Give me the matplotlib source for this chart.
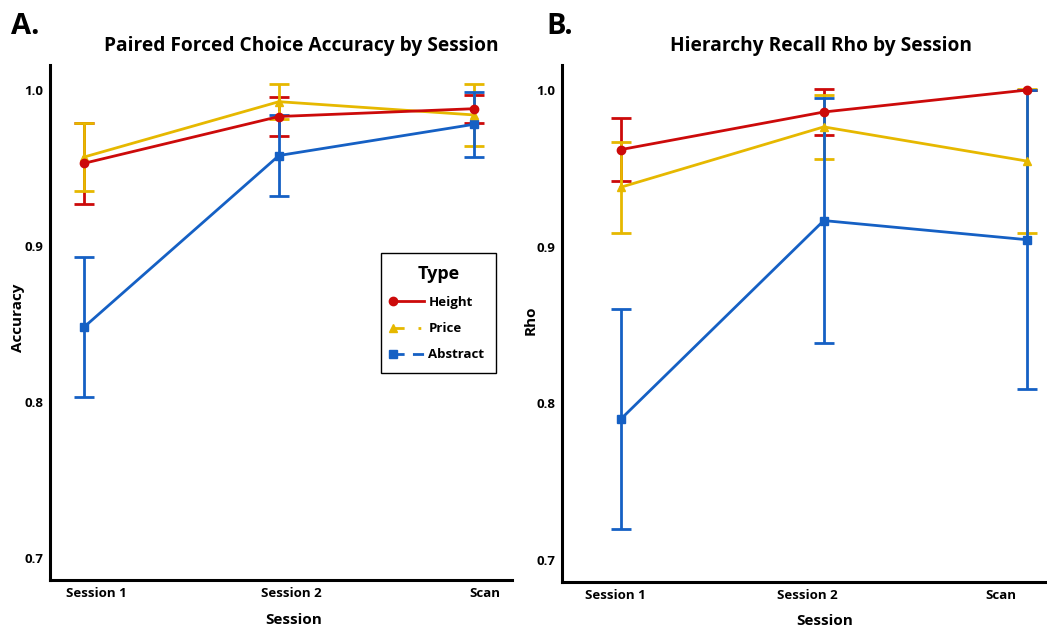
import numpy as np
import matplotlib
matplotlib.use("Agg")
import matplotlib.pyplot as plt
from matplotlib.lines import Line2D
from matplotlib.legend_handler import HandlerLine2D
from matplotlib.transforms import ScaledTranslation

plt.rcParams['font.family'] = ['Open Sans', 'DejaVu Sans']
plt.rcParams['font.weight'] = 'bold'

sessions = ['Session 1', 'Session 2', 'Scan']
types = ['Height', 'Price', 'Abstract']
colors = {'Height': '#CC0A0A', 'Price': '#E6B800', 'Abstract': '#1560C4'}
markers = {'Height': 'o', 'Price': '^', 'Abstract': 's'}
leg_styles = {'Height': '-', 'Price': (0, (4, 5, 1, 5)), 'Abstract': (0, (4, 3))}

# panel A: paired forced choice accuracy
acc_mean = {
    'Height': [0.953, 0.983, 0.988],
    'Price': [0.957, 0.9925, 0.984],
    'Abstract': [0.848, 0.958, 0.978],
}
acc_err = {
    'Height': [0.026, 0.0125, 0.009],
    'Price': [0.022, 0.0113, 0.020],
    'Abstract': [0.045, 0.026, 0.021],
}

# panel B: hierarchy recall rho
rho_mean = {
    'Height': [0.962, 0.986, 1.000],
    'Price': [0.938, 0.9765, 0.9547],
    'Abstract': [0.790, 0.9167, 0.9045],
}
rho_err = {
    'Height': [0.020, 0.0145, 0.000],
    'Price': [0.029, 0.0205, 0.0457],
    'Abstract': [0.070, 0.078, 0.0955],
}


class LeftMarker(HandlerLine2D):
    # legend marker at the left end of the handle line
    def create_artists(self, *args, **kwargs):
        arts = super().create_artists(*args, **kwargs)
        for a in arts:
            a.set_markevery([0])
        return arts


fig = plt.figure(figsize=(10.47, 6.27), dpi=100)
axA = fig.add_axes([50 / 1047, 1 - 580 / 627, 462 / 1047, 515 / 627])
axB = fig.add_axes([562 / 1047, 1 - 582 / 627, 485 / 1047, 517 / 627])


def draw(ax, means, errs, xlim, ylim, label_shift):
    x = np.arange(len(sessions))
    # error bars first (blue ends up on top), then lines + markers
    for t in ['Height', 'Price', 'Abstract']:
        ax.errorbar(x, means[t], yerr=errs[t], fmt='none', ecolor=colors[t],
                    elinewidth=2, capsize=7, capthick=2, zorder=2)
    for t in ['Abstract', 'Price', 'Height']:
        ax.plot(x, means[t], color=colors[t], marker=markers[t], markersize=6,
                linewidth=2, zorder=3)
    ax.set_xlim(*xlim)
    ax.set_ylim(*ylim)
    ax.set_xticks(x)
    ax.set_xticklabels(sessions, fontsize=9.5, fontweight='bold')
    ax.set_yticks([0.7, 0.8, 0.9, 1.0])
    ax.set_yticklabels(['0.7', '0.8', '0.9', '1.0'], fontsize=9.5, fontweight='bold')
    ax.tick_params(length=0, pad=5)
    for s in ['top', 'right']:
        ax.spines[s].set_visible(False)
    for s in ['left', 'bottom']:
        ax.spines[s].set_linewidth(2.2)
    for lab, dx in zip(ax.get_xticklabels(), label_shift):
        lab.set_transform(lab.get_transform() + ScaledTranslation(dx / 100, 0, fig.dpi_scale_trans))


draw(axA, acc_mean, acc_err, (-0.174, 2.195), (0.686, 1.016), [12, 12, 11])
draw(axB, rho_mean, rho_err, (-0.29, 2.1), (0.686, 1.016), [-5, -16, -26])

handles = [Line2D([], [], color=colors[t], marker=markers[t], markersize=6,
                  linewidth=2, linestyle=leg_styles[t]) for t in types]
leg = axA.legend(handles, types, title='Type', loc='upper left',
                 bbox_to_anchor=(0.716, 0.635), borderaxespad=0, fancybox=False,
                 edgecolor='black', framealpha=1, handlelength=2.4, handletextpad=0.3,
                 borderpad=0.9, labelspacing=1.0, prop={'size': 9.5, 'weight': 'bold'},
                 handler_map={Line2D: LeftMarker()})
leg.get_title().set_fontsize(13)
leg.get_title().set_fontweight('bold')
leg.get_frame().set_linewidth(1.0)

fig.text(301 / 1047, 1 - 46 / 627, 'Paired Forced Choice Accuracy by Session',
         ha='center', va='center', fontsize=13.8, fontweight='bold')
fig.text(821 / 1047, 1 - 46 / 627, 'Hierarchy Recall Rho by Session',
         ha='center', va='center', fontsize=13.8, fontweight='bold')
fig.text(11 / 1047, 1 - 27 / 627, 'A.', ha='left', va='center', fontsize=21, fontweight='bold')
fig.text(546 / 1047, 1 - 27 / 627, 'B.', ha='left', va='center', fontsize=21, fontweight='bold')
fig.text(294 / 1047, 1 - 620 / 627, 'Session', ha='center', va='center', fontsize=11, fontweight='bold')
fig.text(825 / 1047, 1 - 621 / 627, 'Session', ha='center', va='center', fontsize=11, fontweight='bold')
fig.text(18 / 1047, 1 - 318 / 627, 'Accuracy', ha='center', va='center', rotation=90,
         fontsize=11, fontweight='bold')
fig.text(531 / 1047, 1 - 320 / 627, 'Rho', ha='center', va='center', rotation=90,
         fontsize=11, fontweight='bold')

fig.savefig('out.png', dpi=100)
